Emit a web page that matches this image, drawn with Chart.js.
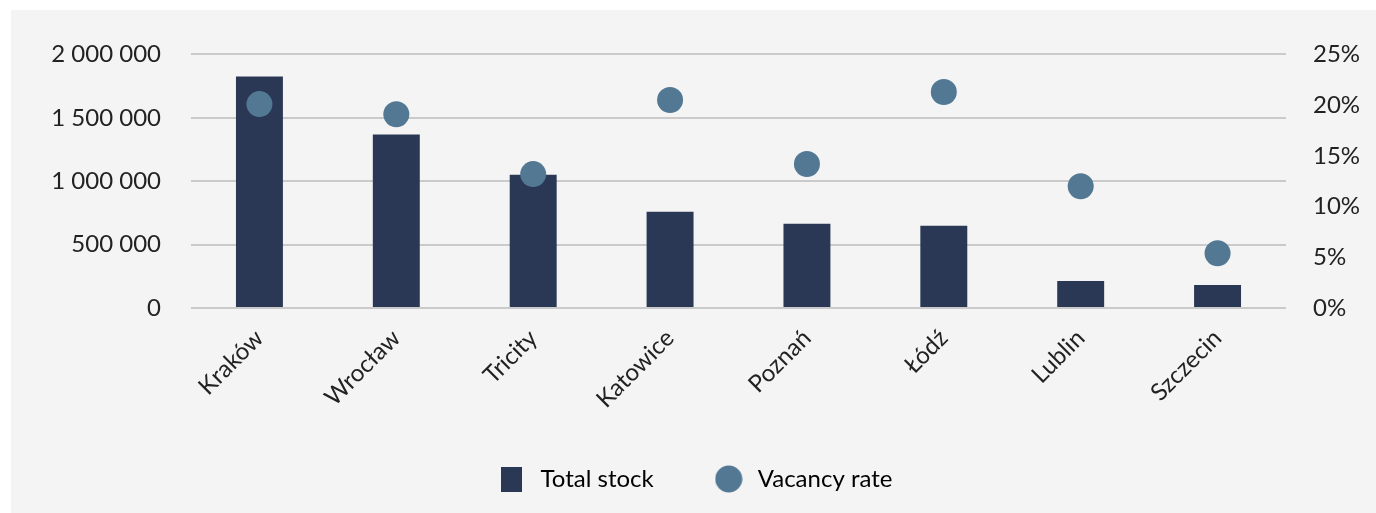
<!DOCTYPE html>
<html>
<head>
<meta charset="utf-8">
<script src="https://cdn.jsdelivr.net/npm/chart.js@4/dist/chart.umd.min.js"></script>
<style>
  html, body { margin: 0; padding: 0; background: #fff; }
  #panel { position: absolute; left: 11px; top: 10px; width: 1365px; height: 503px; background: #f4f4f4; }
  #chart { display: block; }
</style>
</head>
<body>
<div id="panel"><canvas id="chart" width="1365" height="503"></canvas></div>
<script>
// data
const cities = ['Kraków', 'Wrocław', 'Tricity', 'Katowice', 'Poznań', 'Łódź', 'Lublin', 'Szczecin'];
const totalStock = [1826000, 1368000, 1051000, 759000, 664000, 648000, 213000, 182000];
const vacancyRate = [20.1, 19.1, 13.2, 20.5, 14.2, 21.3, 12.0, 5.4]; // %
const stockTicks = [0, 500000, 1000000, 1500000, 2000000];
const rateTicks = [0, 5, 10, 15, 20, 25];

const BAR_COLOR = '#2b3855';
const DOT_COLOR = '#537893';

// small canvases used as legend icons
function legendIcon(kind) {
  const c = document.createElement('canvas');
  const ctx = c.getContext('2d');
  if (kind === 'rect') {
    c.width = 21; c.height = 25;
    ctx.fillStyle = BAR_COLOR;
    ctx.fillRect(0, 0, 21, 25);
  } else {
    c.width = 28; c.height = 28;
    ctx.fillStyle = DOT_COLOR;
    ctx.beginPath(); ctx.arc(14, 14, 13.5, 0, Math.PI * 2); ctx.fill();
  }
  return c;
}
const icons = [legendIcon('rect'), legendIcon('circle')];

const spaced = v => String(v).replace(/\B(?=(\d{3})+(?!\d))/g, ' ');

Chart.defaults.font.family = 'Lato, "Open Sans", sans-serif';
Chart.defaults.font.size = 24;
Chart.defaults.color = '#222';

new Chart(document.getElementById('chart'), {
  type: 'bar',
  data: {
    labels: cities,
    datasets: [
      {
        label: 'Total stock',
        data: totalStock,
        backgroundColor: BAR_COLOR,
        yAxisID: 'y',
        categoryPercentage: 1,
        barPercentage: 0.343,
        order: 1
      },
      {
        type: 'line',
        label: 'Vacancy rate',
        data: vacancyRate,
        showLine: false,
        pointRadius: 13,
        pointHoverRadius: 13,
        pointBackgroundColor: DOT_COLOR,
        pointBorderWidth: 0,
        borderColor: DOT_COLOR,
        yAxisID: 'y1',
        order: 0
      }
    ]
  },
  options: {
    responsive: false,
    animation: false,
    layout: { padding: { left: 0, right: 0, top: 44, bottom: 12 } },
    plugins: {
      tooltip: { enabled: false },
      legend: {
        position: 'bottom',
        labels: {
          usePointStyle: true,
          pointStyleWidth: 34,
          padding: 58,
          color: '#222',
          font: { size: 24 },
          generateLabels: chart => chart.data.datasets.map((ds, i) => ({
            text: ds.label,
            pointStyle: icons[i],
            datasetIndex: i,
            fillStyle: 'transparent',
            strokeStyle: 'transparent',
            lineWidth: 0,
            hidden: false
          }))
        }
      }
    },
    scales: {
      x: {
        grid: { display: false, drawTicks: false },
        border: { display: false },
        ticks: { minRotation: 45, maxRotation: 45, padding: 16, color: '#222' },
        afterFit: s => { s.height = 101; }
      },
      y: {
        position: 'left',
        min: 0,
        max: 2000000,
        afterBuildTicks: s => { s.ticks = stockTicks.map(v => ({ value: v })); },
        ticks: { padding: 30, color: '#222', callback: v => spaced(v) },
        grid: { color: '#cacaca', lineWidth: 2, drawTicks: false },
        border: { display: false },
        afterFit: s => { s.width = 180; }
      },
      y1: {
        position: 'right',
        min: 0,
        max: 25,
        afterBuildTicks: s => { s.ticks = rateTicks.map(v => ({ value: v })); },
        ticks: { padding: 27, color: '#222', callback: v => v + '%' },
        grid: { display: false, drawTicks: false },
        border: { display: false },
        afterFit: s => { s.width = 90; }
      }
    }
  }
});
</script>
</body>
</html>
